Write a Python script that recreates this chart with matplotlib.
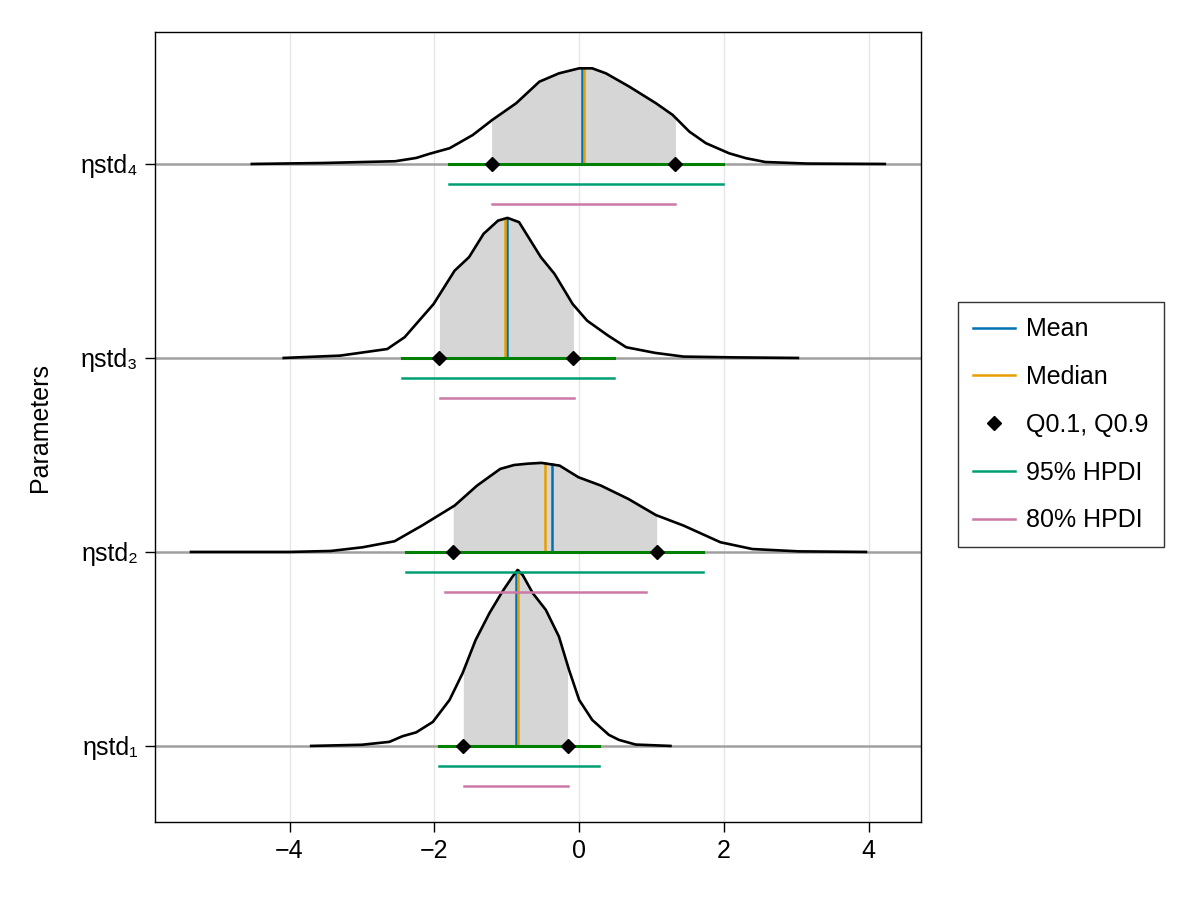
import numpy as np
import matplotlib
matplotlib.use("Agg")
import matplotlib.pyplot as plt
from matplotlib.lines import Line2D

plt.rcParams['font.family'] = ['Liberation Sans', 'DejaVu Sans']
plt.rcParams['font.size'] = 18

# parameter names (bottom to top)
params = ['ηstd₁', 'ηstd₂', 'ηstd₃', 'ηstd₄']

# density curves (x, height in row units)
x1 = [-3.70, -3.0, -2.62, -2.44, -2.25, -2.02, -1.79, -1.61, -1.43, -1.24, -1.06, -0.92,
      -0.85, -0.78, -0.64, -0.46, -0.28, -0.14, 0.0, 0.18, 0.41, 0.55, 0.78, 1.26]
d1 = [0.0, 0.006, 0.021, 0.05, 0.07, 0.124, 0.237, 0.375, 0.546, 0.684, 0.796, 0.873,
      0.907, 0.881, 0.787, 0.701, 0.564, 0.392, 0.237, 0.134, 0.057, 0.031, 0.007, 0.0]
x2 = [-5.36, -4.0, -3.43, -2.99, -2.55, -2.17, -1.72, -1.41, -1.09, -0.90, -0.71, -0.52,
      -0.27, -0.01, 0.30, 0.68, 1.06, 1.44, 1.95, 2.39, 3.03, 3.96]
d2 = [0.0, 0.0, 0.005, 0.024, 0.055, 0.136, 0.239, 0.342, 0.428, 0.448, 0.455, 0.459,
      0.445, 0.385, 0.342, 0.273, 0.19, 0.136, 0.05, 0.015, 0.003, 0.0]
x3 = [-4.08, -3.30, -2.65, -2.41, -2.01, -1.72, -1.52, -1.32, -1.12, -0.99, -0.83, -0.53,
      -0.34, -0.09, 0.11, 0.40, 0.65, 1.05, 1.44, 2.13, 3.02]
d3 = [0.0, 0.012, 0.046, 0.107, 0.278, 0.45, 0.52, 0.64, 0.708, 0.722, 0.70, 0.52,
      0.433, 0.278, 0.192, 0.115, 0.055, 0.026, 0.007, 0.003, 0.0]
x4 = [-4.52, -3.53, -2.54, -2.25, -2.07, -1.79, -1.47, -1.20, -0.87, -0.55, -0.28, 0.0,
      0.18, 0.37, 0.69, 1.06, 1.29, 1.52, 1.75, 2.07, 2.30, 2.57, 3.15, 4.22]
d4 = [0.0, 0.005, 0.014, 0.031, 0.052, 0.081, 0.149, 0.227, 0.313, 0.424, 0.467, 0.493,
      0.493, 0.467, 0.399, 0.313, 0.253, 0.167, 0.107, 0.055, 0.03, 0.010, 0.002, 0.0]

xs = [x1, x2, x3, x4]
ds = [d1, d2, d3, d4]

# summary statistics
means = [-0.87, -0.38, -1.00, 0.04]
medians = [-0.85, -0.47, -1.02, 0.07]
q10 = [-1.60, -1.74, -1.93, -1.21]
q90 = [-0.16, 1.07, -0.08, 1.33]
hpdi95_lo = [-1.94, -2.39, -2.44, -1.80]
hpdi95_hi = [0.28, 1.71, 0.48, 1.98]
hpdi80_lo = [-1.59, -1.85, -1.92, -1.20]
hpdi80_hi = [-0.16, 0.92, -0.07, 1.32]

c_mean = '#0072B2'
c_median = '#E69F00'
c_95 = '#009E73'
c_80 = '#CC79A7'

fig = plt.figure(figsize=(12, 9), dpi=100)
ax = fig.add_axes([0.129, 0.0867, 0.6385, 0.8777])

for i in range(4):
    base = i + 1
    x = np.array(xs[i])
    d = np.array(ds[i])
    ax.axhline(base, color='#a0a0a0', lw=1.8, zorder=1)
    # shaded area between Q0.1 and Q0.9
    inside = (x > q10[i]) & (x < q90[i])
    fx = np.concatenate([[q10[i]], x[inside], [q90[i]]])
    fy = np.interp(fx, x, d)
    ax.fill_between(fx, base, base + fy, color='#d6d6d6', lw=0, zorder=2)
    ax.plot(x, base + d, color='black', lw=1.9, zorder=4, solid_joinstyle='round')
    # mean and median
    ax.plot([means[i], means[i]], [base, base + np.interp(means[i], x, d)],
            color=c_mean, lw=1.8, zorder=3)
    ax.plot([medians[i], medians[i]], [base, base + np.interp(medians[i], x, d)],
            color=c_median, lw=1.8, zorder=3)
    # intervals
    ax.plot([hpdi95_lo[i], hpdi95_hi[i]], [base, base], color='green', lw=2.2, zorder=5)
    ax.plot([hpdi95_lo[i], hpdi95_hi[i]], [base - 0.103, base - 0.103], color=c_95, lw=1.8, zorder=5)
    ax.plot([hpdi80_lo[i], hpdi80_hi[i]], [base - 0.206, base - 0.206], color=c_80, lw=1.8, zorder=5)
    ax.plot([q10[i], q90[i]], [base, base], 'D', color='black', ms=7.5, ls='none', zorder=6)

ax.set_xlim(-5.86, 4.72)
ax.set_ylim(0.608, 4.68)
ax.set_xticks([-4, -2, 0, 2, 4])
ax.set_yticks([1, 2, 3, 4])
ax.set_yticklabels(params)
ax.set_ylabel('Parameters')
ax.yaxis.set_label_coords(-0.134, 0.5)
ax.grid(axis='x', color='#e6e6e6', lw=1.0)
ax.set_axisbelow(True)
ax.tick_params(length=7, width=1, direction='out', pad=5)
for s in ax.spines.values():
    s.set_linewidth(1.0)

handles = [
    Line2D([], [], color=c_mean, lw=1.8),
    Line2D([], [], color=c_median, lw=1.8),
    Line2D([], [], color='black', marker='D', ls='none', ms=7),
    Line2D([], [], color=c_95, lw=1.8),
    Line2D([], [], color=c_80, lw=1.8),
]
labels = ['Mean', 'Median', 'Q0.1, Q0.9', '95% HPDI', '80% HPDI']
leg = fig.legend(handles, labels, loc='center left', bbox_to_anchor=(0.798, 0.528),
                 borderaxespad=0, frameon=True, fancybox=False, edgecolor='black',
                 handlelength=1.7, handletextpad=0.45, labelspacing=0.95,
                 borderpad=0.6, fontsize=18)
leg.get_frame().set_linewidth(1.0)

fig.savefig('out.png', dpi=100)
